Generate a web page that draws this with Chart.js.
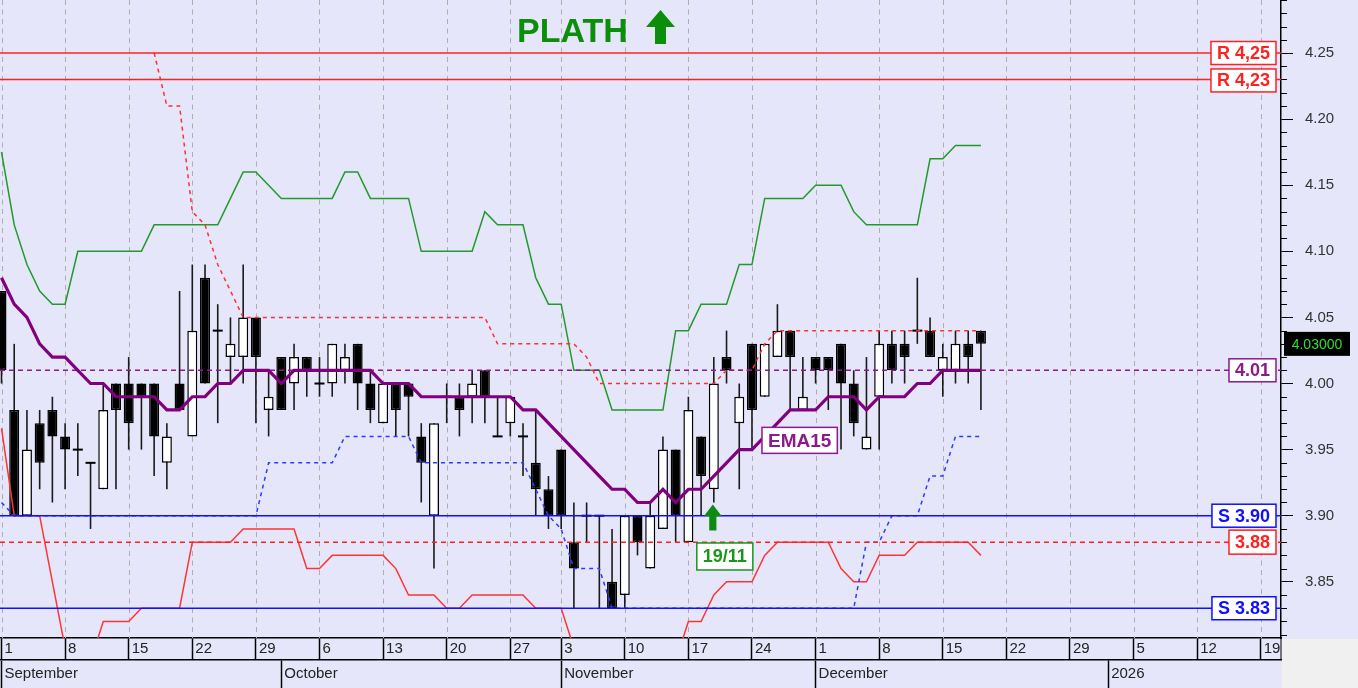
<!DOCTYPE html>
<html>
<head>
<meta charset="utf-8">
<title>PLATH</title>
<script src="https://cdn.jsdelivr.net/npm/chart.js@4.4.1/dist/chart.umd.min.js"></script>
<style>
  html, body { margin: 0; padding: 0; background: #e6e6fa; overflow: hidden; }
  #chart { display: block; }
</style>
</head>
<body>
<canvas id="chart" width="1358" height="688"></canvas>
<script>
// daily candles, Sep 1 -> Dec 18 (trading days, index 0..77)
const opens  = [4.07,3.98,3.90,3.97,3.98,3.96,3.95,3.94,3.92,4.00, 4.00,4.00,4.00,3.94,4.00,3.96,4.08,4.04,4.02,4.02,
                4.05,3.98,4.02,4.00,4.02,4.00,4.00,4.01,4.03,4.00, 3.97,4.00,4.00,3.96,3.90,3.99,3.99,3.99,4.01,3.96,
                3.97,3.96,3.94,3.92,3.95,3.88,3.90,3.90,3.85,3.84, 3.90,3.86,3.89,3.95,3.88,3.96,3.92,4.02,3.97,4.03,
                3.99,4.02,4.04,3.98,4.02,4.02,4.03,4.00,3.95,3.99, 4.03,4.03,4.04,4.04,4.01,4.01,4.03,4.04]
const highs  = [4.07,4.03,3.98,3.98,3.99,3.97,3.97,3.94,4.00,4.00, 4.02,4.00,4.00,3.97,4.07,4.09,4.09,4.06,4.05,4.09,
                4.05,4.01,4.02,4.03,4.02,4.02,4.03,4.03,4.03,4.01, 4.00,4.00,4.00,3.97,3.97,4.00,4.00,4.01,4.01,3.99,
                3.99,3.97,3.98,3.93,3.95,3.91,3.91,3.90,3.89,3.90, 3.90,3.91,3.96,3.95,3.99,3.96,4.02,4.04,4.00,4.03,
                4.03,4.06,4.04,4.02,4.02,4.02,4.03,4.01,4.02,4.04, 4.04,4.04,4.08,4.05,4.03,4.04,4.04,4.04]
const lows   = [4.00,3.90,3.90,3.92,3.91,3.92,3.93,3.89,3.92,3.92, 3.95,3.95,3.93,3.92,3.98,3.96,4.00,3.97,4.00,4.00,
                3.97,3.96,3.98,3.98,3.99,3.99,3.99,4.00,3.98,3.97, 3.97,3.96,3.96,3.91,3.86,3.97,3.96,3.97,3.97,3.96,
                3.96,3.93,3.90,3.89,3.89,3.83,3.88,3.83,3.83,3.83, 3.87,3.86,3.89,3.88,3.88,3.90,3.91,4.00,3.92,3.95,
                3.99,4.02,3.98,3.98,4.00,3.98,3.95,3.96,3.95,3.95, 4.00,4.00,4.03,4.02,3.99,4.00,4.00,3.98]
const closes = [4.01,3.90,3.95,3.94,3.96,3.95,3.95,3.94,3.98,3.98, 3.97,3.99,3.96,3.96,3.98,4.04,4.00,4.04,4.03,4.05,
                4.02,3.99,3.98,4.02,4.01,4.00,4.03,4.02,4.00,3.98, 4.00,3.98,3.99,3.94,3.97,3.99,3.98,4.00,3.99,3.96,
                3.99,3.96,3.92,3.90,3.90,3.86,3.90,3.90,3.83,3.90, 3.88,3.90,3.95,3.90,3.98,3.93,4.00,4.01,3.99,3.98,
                4.03,4.04,4.02,3.99,4.01,4.01,4.00,3.97,3.96,4.03, 4.01,4.02,4.04,4.02,4.02,4.03,4.02,4.03]

const ema15 = [4.08,4.06,4.05,4.03,4.02,4.02,4.01,4.00,4.00,3.99, 3.99,3.99,3.99,3.98,3.98,3.99,3.99,4.00,4.00,4.01,
               4.01,4.01,4.00,4.01,4.01,4.01,4.01,4.01,4.01,4.01, 4.00,4.00,4.00,3.99,3.99,3.99,3.99,3.99,3.99,3.99,
               3.99,3.98,3.98,3.97,3.96,3.95,3.94,3.93,3.92,3.92, 3.91,3.91,3.92,3.91,3.92,3.92,3.93,3.94,3.95,3.95,
               3.96,3.97,3.98,3.98,3.98,3.99,3.99,3.99,3.98,3.99, 3.99,3.99,4.00,4.00,4.01,4.01,4.01,4.01]
const upperBand = [4.175,4.12,4.09,4.07,4.06,4.06,4.10,4.10,4.10,4.10, 4.10,4.10,4.12,4.12,4.12,4.12,4.12,4.12,4.14,4.16,
                   4.16,4.15,4.14,4.14,4.14,4.14,4.14,4.16,4.16,4.14, 4.14,4.14,4.14,4.10,4.10,4.10,4.10,4.10,4.13,4.12,
                   4.12,4.12,4.08,4.06,4.06,4.01,4.01,4.01,3.98,3.98, 3.98,3.98,3.98,4.04,4.04,4.06,4.06,4.06,4.09,4.09,
                   4.14,4.14,4.14,4.14,4.15,4.15,4.15,4.13,4.12,4.12, 4.12,4.12,4.12,4.17,4.17,4.18,4.18,4.18]
const lowerBand = [3.966,3.90,3.90,3.90,3.85,3.80,3.79,3.79,3.82,3.82, 3.82,3.83,3.83,3.83,3.83,3.88,3.88,3.88,3.88,3.89,
                   3.89,3.89,3.89,3.89,3.86,3.86,3.87,3.87,3.87,3.87, 3.87,3.86,3.84,3.84,3.84,3.83,3.83,3.84,3.84,3.84,
                   3.84,3.84,3.83,3.83,3.83,3.80,3.78,3.78,3.78,3.78, 3.78,3.78,3.78,3.79,3.82,3.82,3.84,3.85,3.85,3.85,
                   3.87,3.88,3.88,3.88,3.88,3.88,3.86,3.85,3.85,3.87, 3.87,3.87,3.88,3.88,3.88,3.88,3.88,3.87]
const stopHigh = [null,null,null,null,null,null,null,null,null,null, null,null,4.25,4.21,4.21,4.13,4.12,4.09,4.07,4.05,
                  4.05,4.05,4.05,4.05,4.05,4.05,4.05,4.05,4.05,4.05, 4.05,4.05,4.05,4.05,4.05,4.05,4.05,4.05,4.05,4.03,
                  4.03,4.03,4.03,4.03,4.03,4.03,4.02,4.00,4.00,4.00, 4.00,4.00,4.00,4.00,4.00,4.00,4.00,4.01,4.01,4.01,
                  4.03,4.04,4.04,4.04,4.04,4.04,4.04,4.04,4.04,4.04, 4.04,4.04,4.04,4.04,4.04,4.04,4.04,4.04]
const stopLow = [3.91,3.90,3.90,3.90,3.90,3.90,3.90,3.90,3.90,3.90, 3.90,3.90,3.90,3.90,3.90,3.90,3.90,3.90,3.90,3.90,
                 3.90,3.94,3.94,3.94,3.94,3.94,3.94,3.96,3.96,3.96, 3.96,3.96,3.96,3.94,3.94,3.94,3.94,3.94,3.94,3.94,
                 3.94,3.94,3.92,3.90,3.89,3.86,3.86,3.86,3.83,3.83, 3.83,3.83,3.83,3.83,3.83,3.83,3.83,3.83,3.83,3.83,
                 3.83,3.83,3.83,3.83,3.83,3.83,3.83,3.83,3.88,3.88, 3.90,3.90,3.90,3.93,3.93,3.96,3.96,3.96]

const resistLevels = [4.25, 4.23]
const resistTags = ['R 4,25', 'R 4,23']
const supportLevels = [3.90, 3.83]
const supportTags = ['S 3.90', 'S 3.83']
const emaLevel = 4.01
const stopLevel = 3.88
const lastPrice = '4.03000'
const signalDay = 56
const signalTag = '19/11'

const weekStarts = [0,5,10,15,20,25,30,35,40,44,49,54,59,64,69,74,79,84,89,94,99]
const dayLabels = ['1','8','15','22','29','6','13','20','27','3','10','17','24','1','8','15','22','29','5','12','19']
const monthStarts = [0,22,44,64,87]
const monthLabels = ['September','October','November','December','2026']
const yTickLabels = ['3.85','3.90','3.95','4.00','4.05','4.10','4.15','4.20','4.25']

const xMin = -0.118, xMax = 100.59
const yMin = 3.8075, yMax = 4.2901
const fontFam = '"Liberation Sans", Arial, sans-serif'

const pts = arr => arr.map((v, i) => ({x: i, y: v}))
const hline = v => [{x: xMin, y: v}, {x: xMax, y: v}]

function lineSet(data, color, width, dash, order) {
    return {
        type: 'line', data: data, borderColor: color, borderWidth: width, borderDash: dash || [],
        pointRadius: 0, tension: 0, fill: false, order: order, clip: 0, spanGaps: false
    }
}

function tag(ctx, text, right, cy, color, font, h, fill, textColor) {
    ctx.font = font
    const w = ctx.measureText(text).width + 12
    ctx.fillStyle = fill || '#fff'
    ctx.fillRect(right - w, cy - h / 2, w, h)
    ctx.lineWidth = 1.5
    ctx.strokeStyle = color
    ctx.strokeRect(right - w, cy - h / 2, w, h)
    ctx.fillStyle = textColor || color
    ctx.textAlign = 'center'
    ctx.textBaseline = 'middle'
    ctx.fillText(text, right - w / 2, cy + 1)
}

function upArrow(ctx, cx, top, w, h, color, headPart, shaftPart) {
    const head = h * headPart, shaft = w * shaftPart
    ctx.beginPath()
    ctx.moveTo(cx, top)
    ctx.lineTo(cx + w / 2, top + head)
    ctx.lineTo(cx + shaft / 2, top + head)
    ctx.lineTo(cx + shaft / 2, top + h)
    ctx.lineTo(cx - shaft / 2, top + h)
    ctx.lineTo(cx - shaft / 2, top + head)
    ctx.lineTo(cx - w / 2, top + head)
    ctx.closePath()
    ctx.fillStyle = color
    ctx.fill()
}

const backdrop = {
    id: 'backdrop',
    beforeDraw(chart) {
        const {ctx, chartArea: a, width, height} = chart
        ctx.save()
        ctx.fillStyle = '#e6e6fa'
        ctx.fillRect(0, 0, width, height)
        ctx.fillStyle = '#f0f0f0'
        ctx.fillRect(a.right + 1, a.bottom + 1, width - a.right, height - a.bottom)
        ctx.restore()
    },
    beforeDatasetsDraw(chart) {
        // dashed week grid
        const {ctx, chartArea: a, scales: {x}} = chart
        ctx.save()
        ctx.strokeStyle = '#adadad'
        ctx.lineWidth = 1
        ctx.setLineDash([5, 4.5])
        ctx.beginPath()
        weekStarts.forEach(w => {
            const p = Math.round(x.getPixelForValue(w)) + 0.5
            ctx.moveTo(p, a.top)
            ctx.lineTo(p, a.bottom)
        })
        ctx.stroke()
        ctx.restore()
    },
    afterDraw(chart) {
        // minor ticks on price axis
        const {ctx, chartArea: a, scales: {y}} = chart
        ctx.save()
        ctx.strokeStyle = '#000'
        ctx.lineWidth = 1
        ctx.beginPath()
        for (let c = 381; c <= 429; c++) {
            if (c % 5 === 0) continue
            const p = Math.round(y.getPixelForValue(c / 100)) + 0.5
            ctx.moveTo(a.right, p)
            ctx.lineTo(a.right + 6, p)
        }
        ctx.moveTo(a.right, a.bottom)
        ctx.lineTo(a.right, a.bottom + 22)
        ctx.stroke()
        ctx.restore()
    }
}

const tags = {
    id: 'tags',
    afterDatasetsDraw(chart) {
        const {ctx, chartArea: a, scales: {x, y}} = chart
        const right = a.right - 5
        const f = 'bold 18px ' + fontFam
        ctx.save()
        resistLevels.forEach((v, i) => tag(ctx, resistTags[i], right, y.getPixelForValue(v) + (i ? 1 : 0), '#ff2020', f, 23))
        supportLevels.forEach((v, i) => tag(ctx, supportTags[i], right, y.getPixelForValue(v), '#1010ff', f, 23))
        tag(ctx, emaLevel.toFixed(2), right, y.getPixelForValue(emaLevel), '#8b1a8b', f, 23)
        tag(ctx, stopLevel.toFixed(2), right, y.getPixelForValue(stopLevel), '#ff2020', f, 24)

        // EMA15 label
        ctx.font = 'bold 19px ' + fontFam
        const ew = ctx.measureText('EMA15').width + 8
        tag(ctx, 'EMA15', x.getPixelForValue(60.1) + ew, y.getPixelForValue(3.957), '#8b1a8b', 'bold 19px ' + fontFam, 26)

        // signal arrow + date
        const sx = x.getPixelForValue(signalDay) - 1
        const sy = y.getPixelForValue(lows[signalDay]) + 2
        upArrow(ctx, sx, sy, 18, 26, '#118a11', 0.45, 0.4)
        ctx.font = 'bold 18px ' + fontFam
        const dw = ctx.measureText(signalTag).width + 12
        tag(ctx, signalTag, sx + 12 + dw / 2, sy + 52, '#1a961a', 'bold 18px ' + fontFam, 27)

        // title
        ctx.font = 'bold 34px ' + fontFam
        ctx.fillStyle = '#0b8f0b'
        ctx.textAlign = 'left'
        ctx.textBaseline = 'alphabetic'
        ctx.fillText('PLATH', 517, 42)
        upArrow(ctx, 660.5, 10, 29, 34, '#0b8f0b', 0.5, 0.38)
        ctx.restore()
    },
    afterDraw(chart) {
        const {ctx, chartArea: a, scales: {y}} = chart
        ctx.save()
        const cy = y.getPixelForValue(parseFloat(lastPrice))
        ctx.fillStyle = '#000'
        ctx.fillRect(a.right + 3, cy - 12, 66, 24)
        ctx.font = '14px ' + fontFam
        ctx.fillStyle = '#33dd33'
        ctx.textAlign = 'center'
        ctx.textBaseline = 'middle'
        ctx.fillText(lastPrice, a.right + 36, cy + 1)
        ctx.restore()
    }
}

const idx = opens.map((o, i) => i)
const bodyColors = idx.map(i => closes[i] >= opens[i] ? '#ffffff' : '#000000')

const datasets = [
    lineSet(pts(ema15), '#800080', 3.2, null, 1),
    lineSet(hline(resistLevels[0]), '#ff2020', 1.5, null, 3),
    lineSet(hline(resistLevels[1]), '#ff2020', 1.5, null, 3),
    lineSet(hline(supportLevels[0]), '#1010ff', 1.5, null, 3),
    lineSet(hline(supportLevels[1]), '#1010ff', 1.5, null, 3),
    lineSet(hline(emaLevel), '#8b1a8b', 1.5, [5, 4], 3),
    lineSet(hline(stopLevel), '#ff2020', 1.5, [5, 4], 3),
    lineSet(pts(stopHigh), '#ff3030', 1.5, [4, 4], 4),
    lineSet(pts(stopLow), '#2a3cff', 1.5, [4, 4], 4),
    lineSet(pts(upperBand), '#22992b', 1.5, null, 5),
    lineSet(pts(lowerBand), '#ff3535', 1.5, null, 5),
    {
        type: 'line', showLine: false, order: 8,
        data: idx.map(i => ({x: i, y: opens[i] === closes[i] ? closes[i] : null})),
        pointStyle: 'line', pointRadius: 5, pointBorderWidth: 2, pointBorderColor: '#000', pointBackgroundColor: '#000'
    },
    {
        type: 'bar', order: 9, grouped: false,
        data: idx.map(i => ({x: i, y: opens[i] === closes[i] ? null : [opens[i], closes[i]]})),
        backgroundColor: bodyColors, borderColor: '#000', borderWidth: 1.5, borderSkipped: false,
        barThickness: 10, inflateAmount: 0
    },
    {
        type: 'bar', order: 10, grouped: false,
        data: idx.map(i => ({x: i, y: [lows[i], highs[i]]})),
        backgroundColor: '#1a1a1a', borderWidth: 0, barThickness: 1.6, inflateAmount: 0
    }
]

new Chart(document.getElementById('chart'), {
    type: 'bar',
    data: { datasets: datasets },
    plugins: [backdrop, tags],
    options: {
        responsive: false,
        animation: false,
        events: [],
        layout: { padding: 0, autoPadding: false },
        plugins: { legend: { display: false }, tooltip: { enabled: false }, title: { display: false } },
        scales: {
            x: {
                type: 'linear', position: 'bottom', weight: 0, min: xMin, max: xMax, offset: false, bounds: 'data',
                afterBuildTicks: s => { s.ticks = weekStarts.map(v => ({value: v})) },
                afterFit: s => { s.height = 22; s.paddingLeft = 0; s.paddingRight = 0 },
                ticks: {
                    callback: (v, i) => dayLabels[i], align: 'start', autoSkip: false, maxRotation: 0, minRotation: 0,
                    padding: -20, labelOffset: 3, color: '#222', font: { family: fontFam, size: 15 }
                },
                grid: { offset: false, drawOnChartArea: false, tickLength: 22,
                        tickColor: '#000', tickWidth: 1.5, tickBorderDash: [] },
                border: { color: '#000', width: 1.5 }
            },
            xm: {
                type: 'linear', axis: 'x', position: 'bottom', weight: 1, min: xMin, max: xMax, offset: false, bounds: 'data',
                afterBuildTicks: s => { s.ticks = monthStarts.map(v => ({value: v})) },
                afterFit: s => { s.height = 28; s.paddingLeft = 0; s.paddingRight = 0 },
                ticks: {
                    callback: (v, i) => monthLabels[i], align: 'start', autoSkip: false, maxRotation: 0, minRotation: 0,
                    padding: -23, labelOffset: 3, color: '#222', font: { family: fontFam, size: 15 }
                },
                grid: { offset: false, drawOnChartArea: false, tickLength: 28, tickColor: '#000', tickWidth: 1.5 },
                border: { color: '#000', width: 1.5 }
            },
            y: {
                type: 'linear', position: 'right', min: yMin, max: yMax, bounds: 'data',
                afterBuildTicks: s => { s.ticks = yTickLabels.map(t => ({value: parseFloat(t)})) },
                afterFit: s => { s.width = 77; s.paddingTop = 0; s.paddingBottom = 0 },
                ticks: { callback: (v, i) => yTickLabels[i], padding: 12, color: '#333', font: { family: fontFam, size: 15 } },
                grid: { drawOnChartArea: false, tickLength: 12, tickColor: '#000', tickWidth: 1 },
                border: { color: '#000', width: 1.5 }
            }
        }
    }
})
</script>
</body>
</html>
